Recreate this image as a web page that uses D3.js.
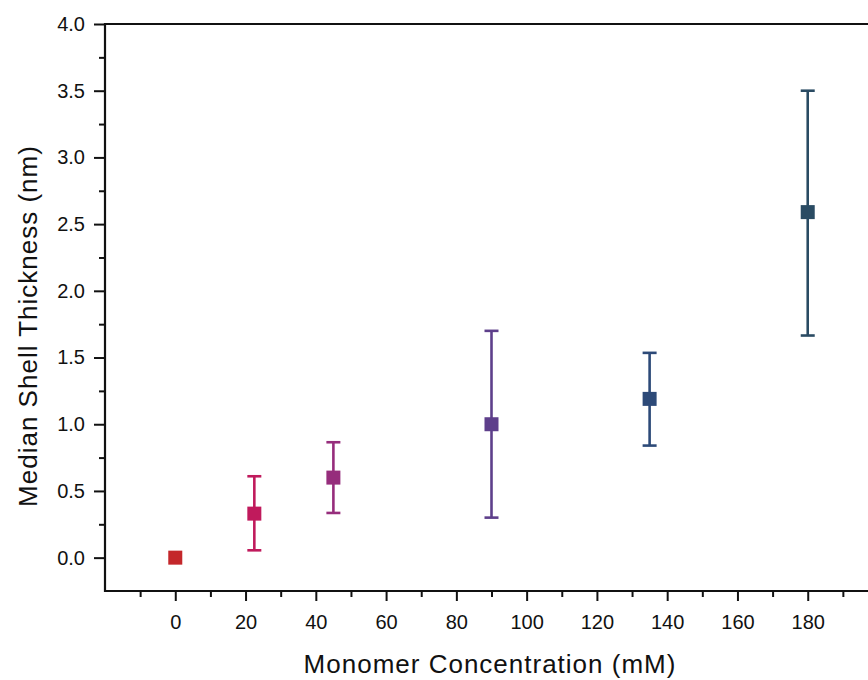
<!DOCTYPE html>
<html>
<head>
<meta charset="utf-8">
<script src="https://cdn.jsdelivr.net/npm/d3@7"></script>
<style>
  body { margin: 0; background: #fff; }
  svg { display: block; font-family: "Liberation Sans", Arial, sans-serif; }
</style>
</head>
<body>
<div id="chart"></div>
<script>
// données
const concentrations = [0, 22.5, 45, 90, 135, 180];
const epaisseurs = [0, 0.33, 0.60, 1.00, 1.19, 2.59];
const errBas = [0, 0.055, 0.335, 0.30, 0.84, 1.665];
const errHaut = [0, 0.61, 0.865, 1.70, 1.535, 3.50];
const couleurs = ["#c4272b", "#c01a5c", "#962d7c", "#5e3f8b", "#2d4a78", "#2a4b63"];
const xTicks = [0, 20, 40, 60, 80, 100, 120, 140, 160, 180];
const yTicks = [0, 0.5, 1, 1.5, 2, 2.5, 3, 3.5, 4];

const W = 868, H = 680;
const margin = { top: 24, right: -10, bottom: 89, left: 105 };

const svg = d3.select("#chart").append("svg")
  .attr("width", W)
  .attr("height", H);

//1 : échelles
const x = d3.scaleLinear().domain([-20, 200]).range([margin.left, W - margin.right]);
const y = d3.scaleLinear().domain([-0.25, 4]).range([H - margin.bottom, margin.top]);

//2 : axes
const xMinor = d3.range(-10, 200, 20);
const yMinor = d3.range(0.25, 4, 0.5);

const gx = svg.append("g").attr("transform", "translate(0," + y(-0.25) + ")");
gx.call(d3.axisBottom(x).tickValues(xTicks).tickSize(10).tickPadding(14).tickFormat(d3.format("d")));
gx.append("g").call(d3.axisBottom(x).tickValues(xMinor).tickSize(6).tickFormat(""));

const gy = svg.append("g").attr("transform", "translate(" + x(-20) + ",0)");
gy.call(d3.axisLeft(y).tickValues(yTicks).tickSize(11).tickPadding(9).tickFormat(d3.format(".1f")));
gy.append("g").call(d3.axisLeft(y).tickValues(yMinor).tickSize(6).tickFormat(""));

svg.selectAll(".domain").remove();
svg.selectAll(".tick line").attr("stroke", "#111").attr("stroke-width", 2);
svg.selectAll(".tick text").attr("fill", "#111").style("font-size", "20px");

// cadre : gauche, bas, haut
svg.append("path")
  .attr("d", "M" + x(200) + "," + y(4) + "H" + x(-20) + "V" + y(-0.25) + "H" + x(200))
  .attr("fill", "none")
  .attr("stroke", "#111")
  .attr("stroke-width", 2.2);

//3 : barres d'erreur et points
const pts = concentrations.map((c, i) => ({ c: c, v: epaisseurs[i], lo: errBas[i], hi: errHaut[i], col: couleurs[i] }));
const cap = 7, taille = 14;

const g = svg.append("g");
pts.filter(d => d.hi > d.lo).forEach(d => {
  const e = g.append("g").attr("stroke", d.col).attr("stroke-width", 2.6);
  e.append("line").attr("x1", x(d.c)).attr("x2", x(d.c)).attr("y1", y(d.lo)).attr("y2", y(d.hi));
  e.append("line").attr("x1", x(d.c) - cap).attr("x2", x(d.c) + cap).attr("y1", y(d.lo)).attr("y2", y(d.lo));
  e.append("line").attr("x1", x(d.c) - cap).attr("x2", x(d.c) + cap).attr("y1", y(d.hi)).attr("y2", y(d.hi));
});

g.selectAll("rect")
  .data(pts)
  .join("rect")
  .attr("x", d => x(d.c) - taille / 2)
  .attr("y", d => y(d.v) - taille / 2)
  .attr("width", taille)
  .attr("height", taille)
  .attr("fill", d => d.col);

//4 : titres
svg.append("text")
  .attr("x", 490)
  .attr("y", 673)
  .attr("text-anchor", "middle")
  .attr("fill", "#111")
  .style("font-size", "26px")
  .style("letter-spacing", "1px")
  .text("Monomer Concentration (mM)");

svg.append("text")
  .attr("transform", "translate(37,326) rotate(-90)")
  .attr("text-anchor", "middle")
  .attr("fill", "#111")
  .style("font-size", "26px")
  .style("letter-spacing", "1px")
  .text("Median Shell Thickness (nm)");
</script>
</body>
</html>
